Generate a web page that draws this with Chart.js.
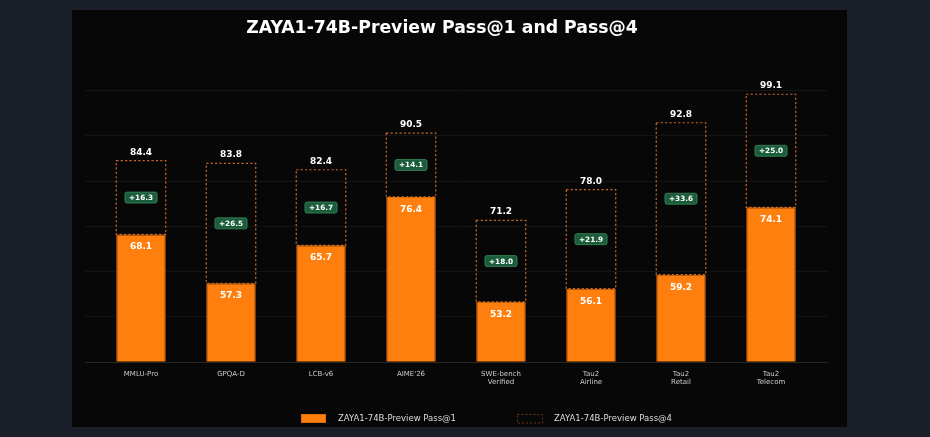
<!DOCTYPE html>
<html>
<head>
<meta charset="utf-8">
<script src="https://cdn.jsdelivr.net/npm/chart.js@4.4.1/dist/chart.umd.min.js"></script>
<style>
html, body { margin: 0; padding: 0; background: #1b1f2a; }
canvas { display: block; }
</style>
</head>
<body>
<canvas id="myChart" width="930" height="437"></canvas>
<script>
// dữ liệu
const categories = [
    ['MMLU-Pro'], ['GPQA-D'], ['LCB-v6'], ["AIME'26"],
    ['SWE-bench', 'Verified'], ['Tau2', 'Airline'], ['Tau2', 'Retail'], ['Tau2', 'Telecom']
];
const pass1 = [68.1, 57.3, 65.7, 76.4, 53.2, 56.1, 59.2, 74.1];
const pass4 = [84.4, 83.8, 82.4, 90.5, 71.2, 78.0, 92.8, 99.1];
const yTicks = [40, 50, 60, 70, 80, 90, 100];
const seriesNames = ['ZAYA1-74B-Preview Pass@1', 'ZAYA1-74B-Preview Pass@4'];
const chartTitle = 'ZAYA1-74B-Preview Pass@1 and Pass@4';

const ORANGE = '#ff7f0e';
const DASH = 'rgba(230,120,50,0.85)';
const FONT = '"DejaVu Sans", sans-serif';

const ctx = document.getElementById('myChart').getContext('2d');

// nền + khung đen
const backgroundPlugin = {
    id: 'bg',
    beforeDraw(chart) {
        const c = chart.ctx;
        c.save();
        c.fillStyle = '#1b1f2a';
        c.fillRect(0, 0, chart.width, chart.height);
        c.fillStyle = '#070707';
        c.fillRect(72, 10, 775, 417);
        c.restore();
    }
};

// lưới ngang mờ
const gridPlugin = {
    id: 'grid',
    beforeDatasetsDraw(chart) {
        const c = chart.ctx;
        const y = chart.scales.y;
        const a = chart.chartArea;
        c.save();
        c.lineWidth = 1;
        yTicks.forEach(v => {
            const py = Math.round(y.getPixelForValue(v)) + 0.5;
            c.strokeStyle = v === yTicks[0] ? 'rgba(255,255,255,0.13)' : 'rgba(255,255,255,0.055)';
            c.beginPath();
            c.moveTo(a.left - 11, py);
            c.lineTo(a.right + 12, py);
            c.stroke();
        });
        c.restore();
    }
};

function roundRect(c, x, y, w, h, r) {
    c.beginPath();
    c.moveTo(x + r, y);
    c.lineTo(x + w - r, y);
    c.arcTo(x + w, y, x + w, y + r, r);
    c.lineTo(x + w, y + h - r);
    c.arcTo(x + w, y + h, x + w - r, y + h, r);
    c.lineTo(x + r, y + h);
    c.arcTo(x, y + h, x, y + h - r, r);
    c.lineTo(x, y + r);
    c.arcTo(x, y, x + r, y, r);
    c.closePath();
}

// khung nét đứt Pass@4 + nhãn
const labelPlugin = {
    id: 'labels',
    afterDatasetsDraw(chart) {
        const c = chart.ctx;
        const m1 = chart.getDatasetMeta(0);
        const m4 = chart.getDatasetMeta(1);
        c.save();
        m4.data.forEach((bar, i) => {
            const p = bar.getProps(['x', 'y', 'base', 'width'], true);
            const left = p.x - p.width / 2;
            c.strokeStyle = DASH;
            c.lineWidth = 1.2;
            c.setLineDash([2.2, 2.2]);
            c.strokeRect(left, p.y, p.width, p.base - p.y);
            c.setLineDash([]);

            c.fillStyle = '#ffffff';
            c.textAlign = 'center';
            c.textBaseline = 'middle';
            c.font = 'bold 9px ' + FONT;
            c.fillText(pass4[i].toFixed(1), p.x, p.y - 8.5);

            // nhãn chênh lệch
            const mid = (p.y + p.base) / 2;
            const txt = '+' + (pass4[i] - pass1[i]).toFixed(1);
            c.font = 'bold 7.3px ' + FONT;
            const tw = c.measureText(txt).width + 8;
            roundRect(c, p.x - tw / 2, mid - 5.5, tw, 11, 2);
            c.fillStyle = '#1b5c3b';
            c.fill();
            c.strokeStyle = '#3c8a5c';
            c.lineWidth = 0.8;
            c.stroke();
            c.fillStyle = '#ffffff';
            c.fillText(txt, p.x, mid + 0.5);
        });
        m1.data.forEach((bar, i) => {
            c.fillStyle = '#ffffff';
            c.textAlign = 'center';
            c.textBaseline = 'middle';
            c.font = 'bold 9px ' + FONT;
            c.fillText(pass1[i].toFixed(1), bar.x, bar.y + 12.5);
        });
        c.restore();
    },
    afterDraw(chart) {
        const c = chart.ctx;
        c.save();
        // tiêu đề
        c.fillStyle = '#ffffff';
        c.font = 'bold 17.3px ' + FONT;
        c.textAlign = 'center';
        c.textBaseline = 'middle';
        c.fillText(chartTitle, 442, 29);

        // chú thích
        const lx = [301, 517];
        const ly = 414;
        c.font = '8.5px ' + FONT;
        c.textAlign = 'left';
        lx.forEach((x, k) => {
            if (k === 0) {
                c.fillStyle = ORANGE;
                c.fillRect(x, ly, 25, 9);
                c.strokeStyle = '#d86a0c';
                c.lineWidth = 0.8;
                c.strokeRect(x + 0.4, ly + 0.4, 24.2, 8.2);
            } else {
                c.strokeStyle = 'rgba(200,90,30,0.55)';
                c.lineWidth = 1;
                c.setLineDash([2, 2]);
                c.strokeRect(x + 0.5, ly + 0.5, 25, 8.5);
                c.setLineDash([]);
            }
            c.fillStyle = '#dddddd';
            c.fillText(chart.data.datasets[k].label, x + 37, ly + 4.5);
        });
        c.restore();
    }
};

const myChart = new Chart(ctx, {
    type: 'bar',
    data: {
        labels: categories,
        datasets: [{
            label: seriesNames[0],
            data: pass1,
            backgroundColor: ORANGE,
            borderColor: '#d86a0c',
            borderWidth: 1,
            borderSkipped: 'start',
            order: 2
        }, {
            label: seriesNames[1],
            data: pass1.map((v, i) => [v, pass4[i]]),
            backgroundColor: 'rgba(0,0,0,0)',
            borderWidth: 0,
            order: 1
        }]
    },
    options: {
        responsive: false,
        devicePixelRatio: 1,
        animation: false,
        grouped: false,
        categoryPercentage: 1,
        barPercentage: 0.55,
        layout: { padding: { left: 96, right: 114, top: 54, bottom: 42 } },
        plugins: {
            legend: { display: false },
            title: { display: false },
            tooltip: { enabled: false }
        },
        scales: {
            x: {
                grid: { display: false, drawTicks: false },
                border: { display: false },
                ticks: {
                    color: '#cccccc',
                    padding: 8,
                    maxRotation: 0,
                    autoSkip: false,
                    font: { family: FONT, size: 7, lineHeight: 1.25 }
                }
            },
            y: {
                display: false,
                min: 40,
                max: 108
            }
        }
    },
    plugins: [backgroundPlugin, gridPlugin, labelPlugin]
});
</script>
</body>
</html>
